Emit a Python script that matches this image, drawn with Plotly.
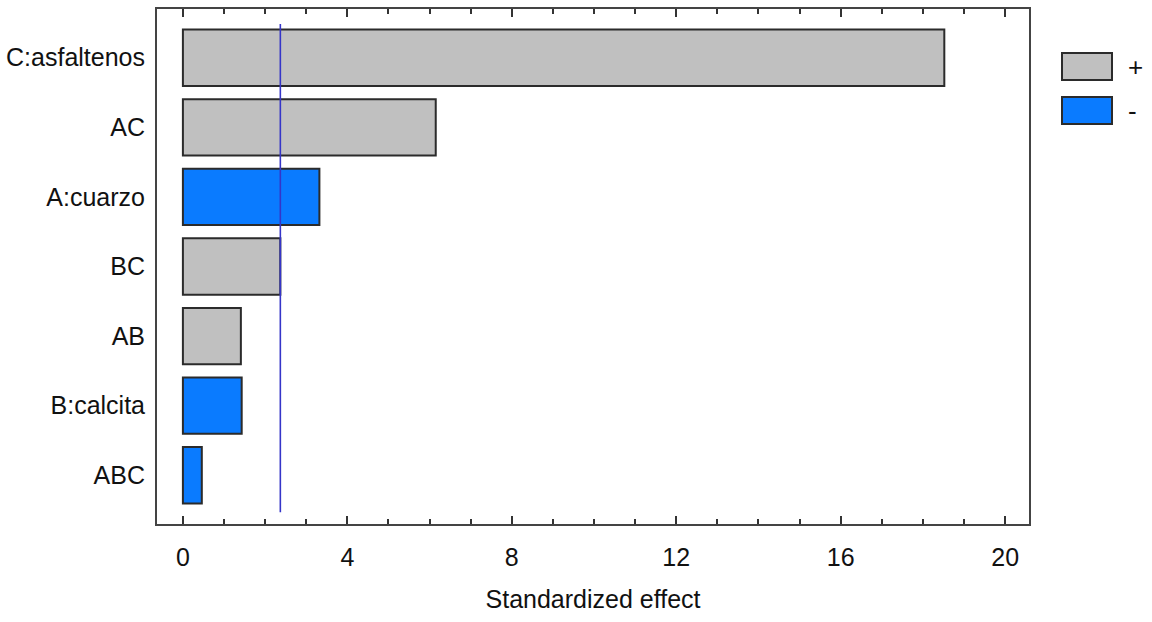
import plotly.graph_objects as go

# Standardized Pareto chart of effects
factors = ["C:asfaltenos", "AC", "A:cuarzo", "BC", "AB", "B:calcita", "ABC"]
effects = [18.52, 6.15, 3.32, 2.37, 1.41, 1.43, 0.46]
signs = ["+", "+", "-", "+", "+", "-", "-"]
critical_value = 2.37

x_ticks = [0, 4, 8, 12, 16, 20]

FONT = "Liberation Sans, Arial, sans-serif"
FS = 25
GRAY = "#c0c0c0"
BLUE = "#0a7bff"
EDGE = "#2b2b2b"

fig = go.Figure()
for sign, color in (("+", GRAY), ("-", BLUE)):
    ys = [f for f, s in zip(factors, signs) if s == sign]
    xs = [e for e, s in zip(effects, signs) if s == sign]
    fig.add_trace(go.Bar(
        x=xs, y=ys, orientation="h", name=sign,
        marker=dict(color=color, line=dict(color=EDGE, width=2)),
        width=0.81, showlegend=False,
    ))

# significance threshold
fig.add_shape(type="line", xref="x", yref="paper",
              x0=critical_value, x1=critical_value, y0=0.023, y1=0.971,
              line=dict(color="#3535c8", width=1.6))

# legend boxes
legend_items = [("+", GRAY, 0.0), ("-", BLUE, 1.0)]
for label, color, k in legend_items:
    y_top = 53 + k * 44
    fig.add_shape(type="rect", xref="paper", yref="paper",
                  x0=(1062 - 157) / 872, x1=(1112 - 157) / 872,
                  y0=(524 - y_top - 27) / 515, y1=(524 - y_top) / 515,
                  line=dict(color=EDGE, width=2), fillcolor=color)
    fig.add_annotation(xref="paper", yref="paper",
                       x=(1126 - 157) / 872, y=(524 - y_top - 14) / 515,
                       text=label, showarrow=False, xanchor="left", yanchor="middle",
                       font=dict(family=FONT, size=26, color="#111"))

fig.update_layout(
    width=1152, height=622,
    margin=dict(l=157, r=123, t=9, b=98),
    paper_bgcolor="white", plot_bgcolor="white",
    barmode="overlay",
    font=dict(family=FONT, size=FS, color="#111"),
    xaxis=dict(
        range=[-0.63, 20.58], tickvals=x_ticks, ticks="inside", ticklen=8,
        tickcolor="#333", tickwidth=1.5,
        minor=dict(dtick=1, ticks="inside", ticklen=5, tickcolor="#333", tickwidth=1.5),
        showline=True, linecolor="#444", linewidth=2, mirror="ticks",
        showgrid=False, zeroline=False, automargin=False,
        ticklabelstandoff=10,
        title=dict(text="Standardized effect", standoff=20,
                   font=dict(family=FONT, size=FS)),
        tickfont=dict(family=FONT, size=FS),
    ),
    yaxis=dict(
        categoryorder="array", categoryarray=factors,
        range=[6.7, -0.7],
        showline=True, linecolor="#444", linewidth=2, mirror=True,
        showgrid=False, zeroline=False, ticks="", automargin=False,
        ticklabelstandoff=5,
        tickfont=dict(family=FONT, size=FS),
    ),
)

fig.write_html("out.html")
